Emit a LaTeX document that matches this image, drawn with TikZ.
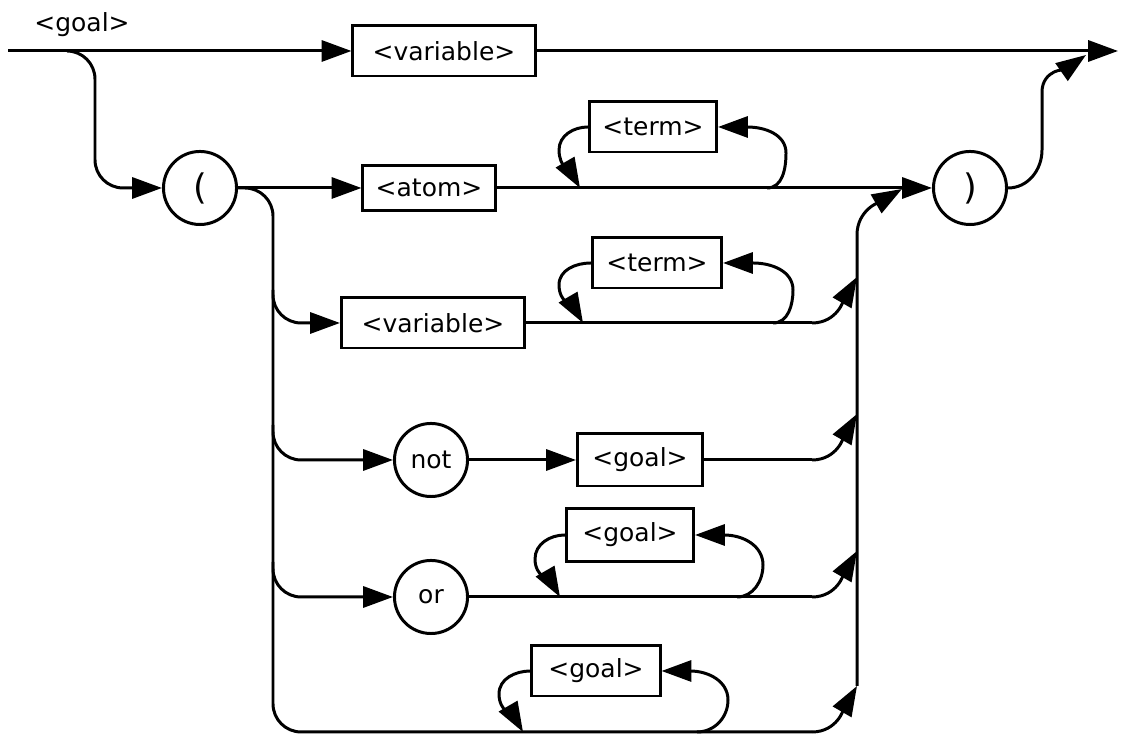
\documentclass[tikz,border=0pt]{standalone}
\usepackage{fontspec}
\setmainfont{DejaVu Sans}
\usetikzlibrary{arrows.meta}

\begin{document}
\begin{tikzpicture}[
      x=0.01cm, y=0.01cm,
      font=\fontsize{7.1}{8.5}\selectfont,
      line width=0.85pt,
      box/.style={draw, minimum height=0.5cm, inner sep=0pt, align=center},
      term/.style={draw, circle, minimum size=0.73cm, inner sep=0pt},
      paren/.style={term, font=\fontsize{10}{12}\selectfont},
      arr/.style={-{Triangle[length=8.5pt, width=6pt]}},
      rc/.style={rounded corners=8pt},
  ]
  \useasboundingbox (0,0) rectangle (1124,740);

  %% top row
  \node (lbl) at (82,715) {<goal>};
  \coordinate (start) at (8,689);
  \coordinate (stop)  at (1118,689);
  \coordinate (split) at (69,689);
  \coordinate (back)  at (1086,685);
  \node[box, minimum width=1.82cm] (var1) at (444,689) {<variable>};

  %% bracketed goals
  \node[paren] (lpar) at (200,552) {(};
  \node[paren] (rpar) at (970,552) {)};
  \node[box, minimum width=1.32cm, minimum height=0.45cm] (atom) at (429,552) {<atom>};
  \node[box, minimum width=1.27cm] (term1) at (653,613) {<term>};
  \node[box, minimum width=1.83cm] (var2)  at (433,417) {<variable>};
  \node[box, minimum width=1.29cm] (term2) at (657,477) {<term>};
  \node[term] (notc) at (431,280) {not};
  \node[box, minimum width=1.25cm, minimum height=0.52cm] (goal1) at (640,280) {<goal>};
  \node[term] (orc) at (431,143) {or};
  \node[box, minimum width=1.27cm, minimum height=0.53cm] (goal2) at (630,205) {<goal>};
  \node[box, minimum width=1.28cm] (goal3) at (596,69) {<goal>};

  %% bus points
  \coordinate (bl) at (273,8);
  \coordinate (b1) at (273,450);
  \coordinate (b2) at (273,315);
  \coordinate (b3) at (273,178);
  \coordinate (e1) at (812,417);
  \coordinate (e2) at (812,280);
  \coordinate (e3) at (812,143);
  \coordinate (e4) at (812,8);
  \coordinate (j1) at (857,463);
  \coordinate (j2) at (857,326);
  \coordinate (j3) at (857,189);
  \coordinate (j4) at (857,54);
  \coordinate (merge) at (902,551);

  %% loop ends on the lines
  \coordinate (t1a) at (580,552);
  \coordinate (t1b) at (767,552);
  \coordinate (t2a) at (583,417);
  \coordinate (t2b) at (773,417);
  \coordinate (g2a) at (560,143);
  \coordinate (g2b) at (737,143);
  \coordinate (g3a) at (523,8);
  \coordinate (g3b) at (697,8);

  %% Arrows
  \draw[arr] (start) -- (var1);
  \draw[arr] (var1) -- (stop);
  \draw[arr, rc] (split) -| (95,552) -- (lpar);
  \draw[arr] (lpar) -- (atom);
  \draw[arr] (atom) -- (rpar);
  \draw[arr] (rpar.east) to[out=0,in=-90] (1042,590) -- (1042,648) to[out=90,in=215] (back);

  \draw[rc] (lpar.east) -| (bl) -- (e4);
  \draw[arr, rc] (b1) |- (var2);
  \draw[arr, rc] (b2) |- (notc);
  \draw[arr, rc] (b3) |- (orc);
  \draw[arr] (notc) -- (goal1);
  \draw (var2)  -- (e1);
  \draw (goal1) -- (e2);
  \draw (orc)   -- (e3);
  \draw[arr] (e1) to[out=0,in=240] (j1);
  \draw[arr] (e2) to[out=0,in=240] (j2);
  \draw[arr] (e3) to[out=0,in=240] (j3);
  \draw[arr] (e4) to[out=0,in=240] (j4);
  \draw[arr] (j4) -- (857,505) to[out=90,in=210] (merge);

  %% repeat loops
  \draw[arr] (term1.west) to[out=180,in=90] (559,590) to[out=-90,in=120] (t1a);
  \draw[arr] (t1b) to[out=0,in=-90] (786,587) to[out=90,in=0] (747,613) -- (term1.east);
  \draw[arr] (term2.west) to[out=180,in=90] (559,455) to[out=-90,in=120] (t2a);
  \draw[arr] (t2b) to[out=0,in=-90] (793,450) to[out=90,in=0] (753,477) -- (term2.east);
  \draw[arr] (goal2.west) to[out=180,in=90] (535,181) to[out=-90,in=120] (g2a);
  \draw[arr] (goal3.west) to[out=180,in=90] (499,46) to[out=-90,in=120] (g3a);
  \draw[arr] (g2b) to[out=0,in=-90] (763,175) to[out=90,in=0] (724,205) -- (goal2.east);
  \draw[arr] (g3b) to[out=0,in=-90] (728,40) to[out=90,in=0] (690,69) -- (goal3.east);

\end{tikzpicture}
\end{document}
